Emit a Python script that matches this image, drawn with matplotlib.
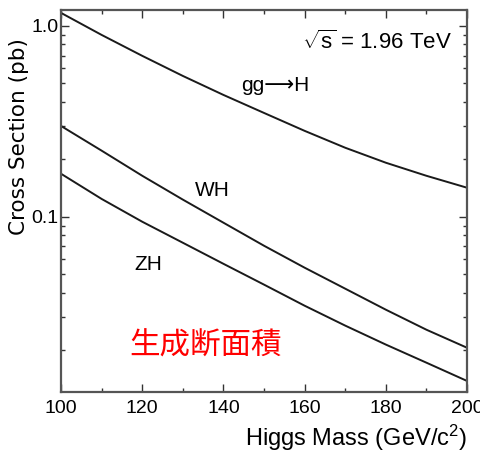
import numpy as np
import matplotlib
matplotlib.use("Agg")
import matplotlib.pyplot as plt
from matplotlib import font_manager
from matplotlib.ticker import FixedLocator, LogLocator, NullFormatter

# Higgs production cross sections at sqrt(s) = 1.96 TeV (pb)
mass = [100, 110, 120, 130, 140, 150, 160, 170, 180, 190, 200]
xs_ggh = [1.17, 0.897, 0.697, 0.547, 0.435, 0.350, 0.282, 0.230, 0.192, 0.164, 0.142]
xs_wh = [0.299, 0.222, 0.164, 0.123, 0.0931, 0.0705, 0.0541, 0.0420, 0.0326, 0.0256, 0.0206]
xs_zh = [0.168, 0.124, 0.0942, 0.0731, 0.0567, 0.0441, 0.0342, 0.0269, 0.0214, 0.0172, 0.0138]

x_ticks = [100, 120, 140, 160, 180, 200]
y_ticks = [0.1, 1.0]
y_tick_labels = ["0.1", "1.0"]

# pick a narrow sans face if one is around
names = {f.name for f in font_manager.fontManager.ttflist}
NARROW = "Liberation Sans Narrow" if "Liberation Sans Narrow" in names else "Liberation Sans"
FAM = [NARROW, "DejaVu Sans"]

plt.rcParams["mathtext.fontset"] = "custom"
plt.rcParams["mathtext.rm"] = NARROW
plt.rcParams["mathtext.it"] = NARROW


def main():
    fig = plt.figure(figsize=(4.81, 4.61), dpi=100)
    ax = fig.add_axes([0.127, 0.150, 0.844, 0.828])

    for xs in (xs_ggh, xs_wh, xs_zh):
        ax.plot(mass, xs, color="#1a1a1a", lw=1.4)

    ax.set_yscale("log")
    ax.set_xlim(100, 200)
    ax.set_ylim(0.0121, 1.21)

    ax.xaxis.set_major_locator(FixedLocator(x_ticks))
    ax.xaxis.set_minor_locator(FixedLocator(list(range(110, 200, 20))))
    ax.yaxis.set_major_locator(FixedLocator(y_ticks))
    ax.yaxis.set_minor_locator(LogLocator(base=10, subs=np.arange(2, 10)))
    ax.yaxis.set_minor_formatter(NullFormatter())
    ax.set_yticklabels(y_tick_labels)

    ax.tick_params(which="both", direction="in", top=True, right=True,
                   color="#333333", width=1.0)
    ax.tick_params(which="major", length=6, labelsize=14, pad=6)
    ax.tick_params(which="minor", length=3)
    for lab in ax.get_xticklabels() + ax.get_yticklabels():
        lab.set_family(FAM)
    ax.tick_params(axis="y", pad=2)

    for sp in ax.spines.values():
        sp.set_color("#555555")
        sp.set_linewidth(1.6)

    ax.set_xlabel(r"Higgs Mass (GeV/c$^\mathrm{2}$)", family=FAM, fontsize=17,
                  loc="right", labelpad=4)
    fig.text(19 / 481, 1 - 137 / 461, "Cross Section (pb)", family="DejaVu Sans",
             fontsize=15.5, rotation=90, ha="center", va="center")

    # process labels next to each curve
    ax.text(152.7, 0.485, "gg\u27f6H", family=FAM, fontsize=15,
            ha="center", va="center")
    ax.text(137.2, 0.137, "WH", family=FAM, fontsize=15,
            ha="center", va="center")
    ax.text(121.4, 0.0561, "ZH", family=FAM, fontsize=15,
            ha="center", va="center")
    ax.text(196.3, 0.824, r"$\sqrt{\mathrm{s}}$ = 1.96 TeV", family=FAM,
            fontsize=16, ha="right", va="center")

    ax.text(135.5, 0.0211, "生成断面積", color="red",
            family=["Noto Sans CJK JP", "DejaVu Sans"], fontsize=22,
            ha="center", va="center")

    fig.savefig("out.png", dpi=100)


if __name__ == "__main__":
    main()
